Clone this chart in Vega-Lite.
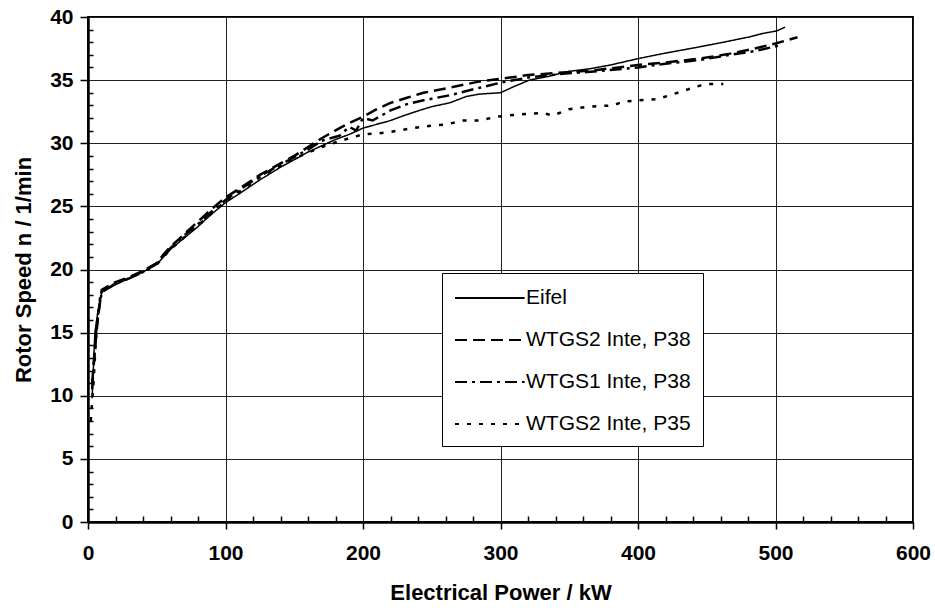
{
  "$schema": "https://vega.github.io/schema/vega-lite/v6.json",
  "width": 825,
  "height": 505,
  "autosize": {"type": "none"},
  "padding": {"left": 88, "top": 17, "right": 22, "bottom": 86},
  "background": "white",
  "config": {"view": {"stroke": "black", "strokeWidth": 2}, "font": "Liberation Sans"},
  "datasets": {
    "curves": [
      {"series": "Eifel", "p": 3, "n": 9.8}, {"series": "Eifel", "p": 5, "n": 15}, {"series": "Eifel", "p": 7, "n": 16.5}, {"series": "Eifel", "p": 10, "n": 18.2}, {"series": "Eifel", "p": 20, "n": 18.8}, {"series": "Eifel", "p": 30, "n": 19.3}, {"series": "Eifel", "p": 40, "n": 19.8}, {"series": "Eifel", "p": 50, "n": 20.4}, {"series": "Eifel", "p": 55, "n": 21}, {"series": "Eifel", "p": 60, "n": 21.6}, {"series": "Eifel", "p": 70, "n": 22.5}, {"series": "Eifel", "p": 80, "n": 23.4}, {"series": "Eifel", "p": 90, "n": 24.4}, {"series": "Eifel", "p": 100, "n": 25.3}, {"series": "Eifel", "p": 110, "n": 26}, {"series": "Eifel", "p": 125, "n": 27.1}, {"series": "Eifel", "p": 140, "n": 28.1}, {"series": "Eifel", "p": 150, "n": 28.7}, {"series": "Eifel", "p": 160, "n": 29.3}, {"series": "Eifel", "p": 170, "n": 29.8}, {"series": "Eifel", "p": 180, "n": 30.3}, {"series": "Eifel", "p": 190, "n": 30.7}, {"series": "Eifel", "p": 200, "n": 31.2}, {"series": "Eifel", "p": 210, "n": 31.5}, {"series": "Eifel", "p": 220, "n": 31.8}, {"series": "Eifel", "p": 230, "n": 32.2}, {"series": "Eifel", "p": 241, "n": 32.6}, {"series": "Eifel", "p": 250, "n": 32.9}, {"series": "Eifel", "p": 263, "n": 33.2}, {"series": "Eifel", "p": 275, "n": 33.7}, {"series": "Eifel", "p": 285, "n": 33.9}, {"series": "Eifel", "p": 300, "n": 34.0}, {"series": "Eifel", "p": 310, "n": 34.5}, {"series": "Eifel", "p": 321, "n": 35.0}, {"series": "Eifel", "p": 335, "n": 35.3}, {"series": "Eifel", "p": 350, "n": 35.7}, {"series": "Eifel", "p": 365, "n": 35.9}, {"series": "Eifel", "p": 380, "n": 36.2}, {"series": "Eifel", "p": 400, "n": 36.7}, {"series": "Eifel", "p": 418, "n": 37.1}, {"series": "Eifel", "p": 443, "n": 37.6}, {"series": "Eifel", "p": 462, "n": 38.0}, {"series": "Eifel", "p": 480, "n": 38.4}, {"series": "Eifel", "p": 491, "n": 38.7}, {"series": "Eifel", "p": 501, "n": 38.9}, {"series": "Eifel", "p": 507, "n": 39.2},

      {"series": "WTGS2 Inte, P38", "p": 3, "n": 11}, {"series": "WTGS2 Inte, P38", "p": 5, "n": 13.5}, {"series": "WTGS2 Inte, P38", "p": 7, "n": 16}, {"series": "WTGS2 Inte, P38", "p": 10, "n": 18.4}, {"series": "WTGS2 Inte, P38", "p": 20, "n": 19}, {"series": "WTGS2 Inte, P38", "p": 30, "n": 19.4}, {"series": "WTGS2 Inte, P38", "p": 40, "n": 19.9}, {"series": "WTGS2 Inte, P38", "p": 50, "n": 20.5}, {"series": "WTGS2 Inte, P38", "p": 55, "n": 21.2}, {"series": "WTGS2 Inte, P38", "p": 60, "n": 21.8}, {"series": "WTGS2 Inte, P38", "p": 70, "n": 22.8}, {"series": "WTGS2 Inte, P38", "p": 80, "n": 23.8}, {"series": "WTGS2 Inte, P38", "p": 90, "n": 24.8}, {"series": "WTGS2 Inte, P38", "p": 100, "n": 25.7}, {"series": "WTGS2 Inte, P38", "p": 110, "n": 26.4}, {"series": "WTGS2 Inte, P38", "p": 125, "n": 27.5}, {"series": "WTGS2 Inte, P38", "p": 140, "n": 28.4}, {"series": "WTGS2 Inte, P38", "p": 150, "n": 29}, {"series": "WTGS2 Inte, P38", "p": 160, "n": 29.7}, {"series": "WTGS2 Inte, P38", "p": 170, "n": 30.4}, {"series": "WTGS2 Inte, P38", "p": 183, "n": 31.2}, {"series": "WTGS2 Inte, P38", "p": 190, "n": 31.6}, {"series": "WTGS2 Inte, P38", "p": 200, "n": 32.1}, {"series": "WTGS2 Inte, P38", "p": 210, "n": 32.7}, {"series": "WTGS2 Inte, P38", "p": 220, "n": 33.2}, {"series": "WTGS2 Inte, P38", "p": 232, "n": 33.6}, {"series": "WTGS2 Inte, P38", "p": 244, "n": 34.0}, {"series": "WTGS2 Inte, P38", "p": 263, "n": 34.4}, {"series": "WTGS2 Inte, P38", "p": 285, "n": 34.9}, {"series": "WTGS2 Inte, P38", "p": 300, "n": 35.1}, {"series": "WTGS2 Inte, P38", "p": 320, "n": 35.4}, {"series": "WTGS2 Inte, P38", "p": 345, "n": 35.6}, {"series": "WTGS2 Inte, P38", "p": 370, "n": 35.8}, {"series": "WTGS2 Inte, P38", "p": 400, "n": 36.2}, {"series": "WTGS2 Inte, P38", "p": 420, "n": 36.4}, {"series": "WTGS2 Inte, P38", "p": 445, "n": 36.7}, {"series": "WTGS2 Inte, P38", "p": 467, "n": 37.1}, {"series": "WTGS2 Inte, P38", "p": 485, "n": 37.5}, {"series": "WTGS2 Inte, P38", "p": 500, "n": 37.9}, {"series": "WTGS2 Inte, P38", "p": 516, "n": 38.4},

      {"series": "WTGS1 Inte, P38", "p": 3, "n": 10.5}, {"series": "WTGS1 Inte, P38", "p": 5, "n": 14}, {"series": "WTGS1 Inte, P38", "p": 7, "n": 16.3}, {"series": "WTGS1 Inte, P38", "p": 10, "n": 18.2}, {"series": "WTGS1 Inte, P38", "p": 20, "n": 18.9}, {"series": "WTGS1 Inte, P38", "p": 30, "n": 19.3}, {"series": "WTGS1 Inte, P38", "p": 40, "n": 19.8}, {"series": "WTGS1 Inte, P38", "p": 50, "n": 20.5}, {"series": "WTGS1 Inte, P38", "p": 55, "n": 21.1}, {"series": "WTGS1 Inte, P38", "p": 60, "n": 21.7}, {"series": "WTGS1 Inte, P38", "p": 70, "n": 22.7}, {"series": "WTGS1 Inte, P38", "p": 80, "n": 23.6}, {"series": "WTGS1 Inte, P38", "p": 90, "n": 24.6}, {"series": "WTGS1 Inte, P38", "p": 100, "n": 25.5}, {"series": "WTGS1 Inte, P38", "p": 110, "n": 26.3}, {"series": "WTGS1 Inte, P38", "p": 125, "n": 27.4}, {"series": "WTGS1 Inte, P38", "p": 140, "n": 28.3}, {"series": "WTGS1 Inte, P38", "p": 150, "n": 28.9}, {"series": "WTGS1 Inte, P38", "p": 160, "n": 29.5}, {"series": "WTGS1 Inte, P38", "p": 170, "n": 30.2}, {"series": "WTGS1 Inte, P38", "p": 183, "n": 30.6}, {"series": "WTGS1 Inte, P38", "p": 190, "n": 31.3}, {"series": "WTGS1 Inte, P38", "p": 195, "n": 31.0}, {"series": "WTGS1 Inte, P38", "p": 200, "n": 32.0}, {"series": "WTGS1 Inte, P38", "p": 207, "n": 31.8}, {"series": "WTGS1 Inte, P38", "p": 220, "n": 32.6}, {"series": "WTGS1 Inte, P38", "p": 232, "n": 33.1}, {"series": "WTGS1 Inte, P38", "p": 244, "n": 33.4}, {"series": "WTGS1 Inte, P38", "p": 263, "n": 33.8}, {"series": "WTGS1 Inte, P38", "p": 285, "n": 34.4}, {"series": "WTGS1 Inte, P38", "p": 300, "n": 34.8}, {"series": "WTGS1 Inte, P38", "p": 320, "n": 35.2}, {"series": "WTGS1 Inte, P38", "p": 345, "n": 35.5}, {"series": "WTGS1 Inte, P38", "p": 370, "n": 35.7}, {"series": "WTGS1 Inte, P38", "p": 400, "n": 36.0}, {"series": "WTGS1 Inte, P38", "p": 420, "n": 36.3}, {"series": "WTGS1 Inte, P38", "p": 445, "n": 36.6}, {"series": "WTGS1 Inte, P38", "p": 467, "n": 37.0}, {"series": "WTGS1 Inte, P38", "p": 485, "n": 37.3}, {"series": "WTGS1 Inte, P38", "p": 505, "n": 37.8},

      {"series": "WTGS2 Inte, P35", "p": 2, "n": 8}, {"series": "WTGS2 Inte, P35", "p": 4, "n": 11}, {"series": "WTGS2 Inte, P35", "p": 6, "n": 15}, {"series": "WTGS2 Inte, P35", "p": 9, "n": 18}, {"series": "WTGS2 Inte, P35", "p": 10, "n": 18.3}, {"series": "WTGS2 Inte, P35", "p": 20, "n": 18.9}, {"series": "WTGS2 Inte, P35", "p": 30, "n": 19.3}, {"series": "WTGS2 Inte, P35", "p": 40, "n": 19.8}, {"series": "WTGS2 Inte, P35", "p": 50, "n": 20.4}, {"series": "WTGS2 Inte, P35", "p": 60, "n": 21.6}, {"series": "WTGS2 Inte, P35", "p": 80, "n": 23.5}, {"series": "WTGS2 Inte, P35", "p": 100, "n": 25.4}, {"series": "WTGS2 Inte, P35", "p": 125, "n": 27.3}, {"series": "WTGS2 Inte, P35", "p": 150, "n": 28.8}, {"series": "WTGS2 Inte, P35", "p": 170, "n": 29.7}, {"series": "WTGS2 Inte, P35", "p": 178, "n": 30.0}, {"series": "WTGS2 Inte, P35", "p": 190, "n": 30.4}, {"series": "WTGS2 Inte, P35", "p": 200, "n": 30.7}, {"series": "WTGS2 Inte, P35", "p": 212, "n": 30.8}, {"series": "WTGS2 Inte, P35", "p": 220, "n": 30.9}, {"series": "WTGS2 Inte, P35", "p": 236, "n": 31.2}, {"series": "WTGS2 Inte, P35", "p": 250, "n": 31.4}, {"series": "WTGS2 Inte, P35", "p": 261, "n": 31.5}, {"series": "WTGS2 Inte, P35", "p": 273, "n": 31.8}, {"series": "WTGS2 Inte, P35", "p": 285, "n": 31.8}, {"series": "WTGS2 Inte, P35", "p": 297, "n": 32.1}, {"series": "WTGS2 Inte, P35", "p": 315, "n": 32.3}, {"series": "WTGS2 Inte, P35", "p": 331, "n": 32.4}, {"series": "WTGS2 Inte, P35", "p": 338, "n": 32.2}, {"series": "WTGS2 Inte, P35", "p": 350, "n": 32.7}, {"series": "WTGS2 Inte, P35", "p": 365, "n": 32.9}, {"series": "WTGS2 Inte, P35", "p": 382, "n": 33.0}, {"series": "WTGS2 Inte, P35", "p": 389, "n": 33.3}, {"series": "WTGS2 Inte, P35", "p": 414, "n": 33.5}, {"series": "WTGS2 Inte, P35", "p": 423, "n": 33.8}, {"series": "WTGS2 Inte, P35", "p": 443, "n": 34.5}, {"series": "WTGS2 Inte, P35", "p": 450, "n": 34.7}, {"series": "WTGS2 Inte, P35", "p": 462, "n": 34.7}
    ]
  },
  "data": {"name": "curves"},
  "mark": {"type": "line", "color": "black", "strokeCap": "butt", "strokeJoin": "miter"},
  "encoding": {
    "x": {
      "field": "p", "type": "quantitative",
      "scale": {"domain": [0, 600], "nice": false, "zero": true},
      "axis": {
        "title": "Electrical Power / kW",
        "values": [0,20,40,60,80,100,120,140,160,180,200,220,240,260,280,300,320,340,360,380,400,420,440,460,480,500,520,540,560,580,600],
        "labelExpr": "datum.value % 100 === 0 ? datum.label : ''",
        "labelOverlap": false, "labelFlush": false,
        "grid": true, "gridColor": "#222", "gridWidth": 1,
        "gridOpacity": {"condition": {"test": "datum.value % 100 === 0", "value": 1}, "value": 0},
        "tickSize": {"condition": {"test": "datum.value % 100 === 0", "value": 7}, "value": -6},
        "tickColor": "black", "tickWidth": 1.5,
        "domainColor": "black", "domainWidth": 2.5,
        "labelFont": "Liberation Sans", "labelFontWeight": "bold", "labelFontSize": 21, "labelColor": "black", "labelPadding": 13,
        "titleFont": "Liberation Sans", "titleFontWeight": "bold", "titleFontSize": 22, "titleColor": "black", "titlePadding": 19
      }
    },
    "y": {
      "field": "n", "type": "quantitative",
      "scale": {"domain": [0, 40], "nice": false},
      "axis": {
        "title": "Rotor Speed n / 1/min",
        "values": [0,1,2,3,4,5,6,7,8,9,10,11,12,13,14,15,16,17,18,19,20,21,22,23,24,25,26,27,28,29,30,31,32,33,34,35,36,37,38,39,40],
        "labelExpr": "datum.value % 5 === 0 ? datum.label : ''",
        "labelOverlap": false, "labelFlush": false,
        "grid": true, "gridColor": "#222", "gridWidth": 1,
        "gridOpacity": {"condition": {"test": "datum.value % 5 === 0", "value": 1}, "value": 0},
        "tickSize": {"condition": {"test": "datum.value % 5 === 0", "value": 8}, "value": -5},
        "tickColor": "black", "tickWidth": 1.5,
        "domainColor": "black", "domainWidth": 2.5,
        "labelFont": "Liberation Sans", "labelFontWeight": "bold", "labelFontSize": 21, "labelColor": "black", "labelPadding": 7,
        "titleFont": "Liberation Sans", "titleFontWeight": "bold", "titleFontSize": 22, "titleColor": "black", "titlePadding": 14
      }
    },
    "strokeDash": {
      "field": "series", "type": "nominal",
      "scale": {"domain": ["Eifel", "WTGS2 Inte, P38", "WTGS1 Inte, P38", "WTGS2 Inte, P35"], "range": [[1, 0], [12, 6], [12, 5, 3, 5], [4, 8]]},
      "legend": {
        "orient": "none", "legendX": 354, "legendY": 256,
        "title": null,
        "strokeColor": "black", "fillColor": "white", "padding": 12,
        "labelFont": "Liberation Sans", "labelFontSize": 21, "labelColor": "black", "labelLimit": 400,
        "symbolType": "M-1,0H4.8", "symbolSize": 576, "symbolStrokeWidth": 2, "symbolStrokeColor": "black",
        "labelOffset": 46, "rowPadding": 19
      }
    },
    "strokeWidth": {"condition": {"test": "datum.series === 'Eifel'", "value": 1.5}, "value": 2.5}
  }
}
